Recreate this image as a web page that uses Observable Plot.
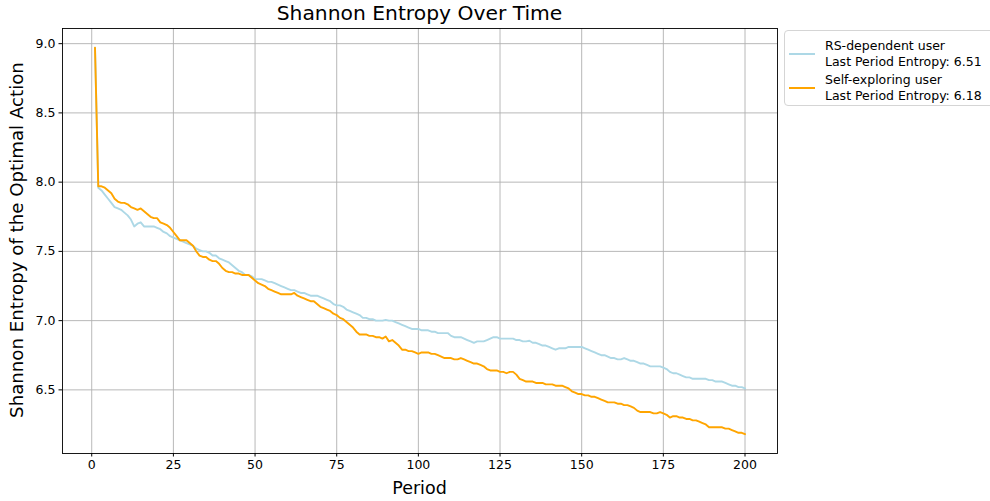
<!DOCTYPE html>
<html>
<head>
<meta charset="utf-8">
<script src="https://cdn.jsdelivr.net/npm/d3@7"></script>
<script src="https://cdn.jsdelivr.net/npm/@observablehq/plot@0.6"></script>
<style>
  html, body { margin: 0; padding: 0; background: #fff; }
  #wrap { position: relative; width: 990px; height: 501px; overflow: hidden; font-family: "DejaVu Sans", sans-serif; color: #000; }
  .abs { position: absolute; white-space: nowrap; }
  #title { left: 0; width: 839px; top: 1px; text-align: center; font-size: 20.3px; line-height: 24px; }
  #xlabel { left: 0; width: 839px; top: 477px; text-align: center; font-size: 17.5px; line-height: 22px; }
  #ylabel { left: 17px; top: 240px; font-size: 18.2px; line-height: 22px; transform: translate(-50%, -50%) rotate(-90deg); }
  #legend { left: 784px; top: 30px; width: 220px; height: 76px; border: 1px solid #d5d5d5; border-radius: 4px; background: #fff; box-sizing: border-box; }
  .sw { position: absolute; left: 4px; width: 26px; height: 2px; }
  .lt { position: absolute; left: 40px; font-size: 12.5px; line-height: 16px; }
</style>
</head>
<body>
<div id="wrap">
  <div id="chart"></div>
  <div class="abs" id="title">Shannon Entropy Over Time</div>
  <div class="abs" id="xlabel">Period</div>
  <div class="abs" id="ylabel">Shannon Entropy of the Optimal Action</div>
  <div class="abs" id="legend"></div>
</div>
<script>
const seriesNames = ["RS-dependent user", "Self-exploring user"];
const seriesColors = ["#add8e6", "#ffa500"];
const lastEntropy = ["6.51", "6.18"];
const xTicks = [0, 25, 50, 75, 100, 125, 150, 175, 200];
const yTicks = [6.5, 7.0, 7.5, 8.0, 8.5, 9.0];

// Periods 1..200
const rsDependent = [
  8.97, 7.96, 7.94, 7.91, 7.88, 7.85, 7.82, 7.81, 7.80, 7.78,
  7.76, 7.73, 7.68, 7.70, 7.71, 7.68, 7.68, 7.68, 7.68, 7.67,
  7.66, 7.64, 7.63, 7.61, 7.60, 7.59, 7.58, 7.57, 7.56, 7.55,
  7.54, 7.52, 7.51, 7.50, 7.50, 7.49, 7.47, 7.47, 7.45, 7.44,
  7.43, 7.42, 7.40, 7.38, 7.36, 7.35, 7.33, 7.33, 7.32, 7.30,
  7.30, 7.30, 7.29, 7.28, 7.28, 7.27, 7.26, 7.25, 7.24, 7.23,
  7.22, 7.22, 7.21, 7.20, 7.20, 7.19, 7.18, 7.18, 7.18, 7.17,
  7.16, 7.15, 7.14, 7.12, 7.11, 7.11, 7.10, 7.08, 7.07, 7.06,
  7.05, 7.04, 7.02, 7.02, 7.01, 7.01, 7.00, 7.00, 7.00, 7.005,
  7.00, 7.00, 6.99, 6.98, 6.97, 6.96, 6.95, 6.94, 6.94, 6.94,
  6.93, 6.93, 6.93, 6.92, 6.92, 6.91, 6.91, 6.91, 6.91, 6.89,
  6.88, 6.88, 6.88, 6.87, 6.86, 6.85, 6.84, 6.85, 6.85, 6.85,
  6.86, 6.87, 6.88, 6.88, 6.87, 6.87, 6.87, 6.87, 6.87, 6.86,
  6.86, 6.85, 6.85, 6.855, 6.84, 6.84, 6.83, 6.82, 6.82, 6.81,
  6.80, 6.79, 6.80, 6.80, 6.80, 6.81, 6.81, 6.81, 6.81, 6.81,
  6.80, 6.79, 6.78, 6.77, 6.76, 6.75, 6.75, 6.74, 6.73, 6.73,
  6.72, 6.72, 6.73, 6.72, 6.71, 6.71, 6.70, 6.69, 6.69, 6.68,
  6.67, 6.67, 6.67, 6.67, 6.66, 6.65, 6.63, 6.62, 6.62, 6.61,
  6.60, 6.59, 6.59, 6.58, 6.58, 6.58, 6.58, 6.58, 6.57, 6.57,
  6.56, 6.56, 6.56, 6.55, 6.54, 6.53, 6.53, 6.52, 6.52, 6.51
];
const selfExploring = [
  8.97, 7.97, 7.97, 7.96, 7.94, 7.92, 7.88, 7.86, 7.85, 7.85,
  7.84, 7.82, 7.81, 7.80, 7.81, 7.79, 7.77, 7.75, 7.74, 7.74,
  7.71, 7.70, 7.69, 7.67, 7.64, 7.61, 7.58, 7.58, 7.58, 7.56,
  7.54, 7.50, 7.47, 7.46, 7.46, 7.44, 7.43, 7.43, 7.41, 7.38,
  7.36, 7.35, 7.35, 7.34, 7.34, 7.33, 7.33, 7.33, 7.31, 7.29,
  7.27, 7.26, 7.25, 7.23, 7.22, 7.21, 7.20, 7.19, 7.19, 7.19,
  7.19, 7.20, 7.18, 7.17, 7.16, 7.15, 7.14, 7.14, 7.12, 7.10,
  7.09, 7.08, 7.07, 7.05, 7.04, 7.02, 7.01, 6.99, 6.97, 6.95,
  6.92, 6.90, 6.90, 6.90, 6.89, 6.89, 6.88, 6.88, 6.87, 6.885,
  6.85, 6.86, 6.84, 6.82, 6.79, 6.79, 6.78, 6.78, 6.77, 6.76,
  6.77, 6.77, 6.77, 6.76, 6.76, 6.75, 6.74, 6.73, 6.73, 6.73,
  6.72, 6.72, 6.73, 6.72, 6.71, 6.70, 6.69, 6.69, 6.68, 6.67,
  6.65, 6.64, 6.64, 6.64, 6.63, 6.63, 6.62, 6.63, 6.63, 6.61,
  6.58, 6.57, 6.56, 6.56, 6.56, 6.55, 6.55, 6.55, 6.54, 6.54,
  6.54, 6.53, 6.53, 6.53, 6.52, 6.51, 6.49, 6.48, 6.47, 6.47,
  6.46, 6.46, 6.45, 6.45, 6.44, 6.43, 6.42, 6.41, 6.41, 6.41,
  6.40, 6.40, 6.39, 6.39, 6.38, 6.37, 6.35, 6.34, 6.34, 6.34,
  6.34, 6.33, 6.33, 6.34, 6.33, 6.32, 6.30, 6.31, 6.31, 6.30,
  6.30, 6.29, 6.29, 6.28, 6.28, 6.27, 6.26, 6.25, 6.23, 6.23,
  6.23, 6.23, 6.23, 6.22, 6.22, 6.21, 6.20, 6.19, 6.19, 6.18
];

const rows = [];
[rsDependent, selfExploring].forEach((arr, s) => {
  arr.forEach((v, i) => rows.push({period: i + 1, value: v, series: seriesNames[s]}));
});

const chart = Plot.plot({
  width: 990,
  height: 501,
  marginLeft: 62,
  marginRight: 213,
  marginTop: 28,
  marginBottom: 48,
  style: {fontFamily: "DejaVu Sans, sans-serif", fontSize: "12.5px", color: "#000", background: "#fff"},
  x: {domain: [-8.95, 209.95]},
  y: {domain: [6.0405, 9.1095]},
  color: {domain: seriesNames, range: seriesColors},
  marks: [
    Plot.gridX(xTicks, {stroke: "#b0b0b0", strokeOpacity: 1, strokeWidth: 0.9}),
    Plot.gridY(yTicks, {stroke: "#b0b0b0", strokeOpacity: 1, strokeWidth: 0.9}),
    Plot.line(rows, {x: "period", y: "value", z: "series", stroke: "series", strokeWidth: 1.9}),
    Plot.frame({stroke: "#000", strokeWidth: 0.9}),
    Plot.axisX({ticks: xTicks, tickSize: 3.5, tickPadding: 3.5, label: null, fontSize: 12.5, tickFormat: d => String(d)}),
    Plot.axisY({ticks: yTicks, tickSize: 3.5, tickPadding: 3.5, label: null, fontSize: 12.5, tickFormat: d3.format(".1f")})
  ]
});
document.getElementById("chart").appendChild(chart);

const legend = document.getElementById("legend");
seriesNames.forEach((name, i) => {
  const top = 8 + i * 34;
  const sw = document.createElement("div");
  sw.className = "sw";
  sw.style.top = (top + 14) + "px";
  sw.style.background = seriesColors[i];
  legend.appendChild(sw);
  const t1 = document.createElement("div");
  t1.className = "lt";
  t1.style.top = top - 1 + "px";
  t1.textContent = name;
  legend.appendChild(t1);
  const t2 = document.createElement("div");
  t2.className = "lt";
  t2.style.top = (top + 15) + "px";
  t2.textContent = "Last Period Entropy: " + lastEntropy[i];
  legend.appendChild(t2);
});
</script>
</body>
</html>
